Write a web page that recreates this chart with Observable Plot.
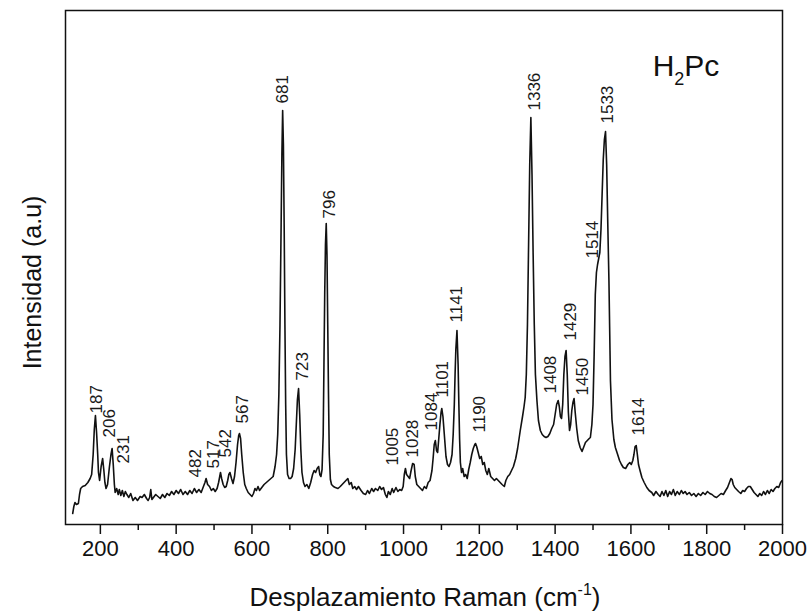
<!DOCTYPE html>
<html>
<head>
<meta charset="utf-8">
<script src="https://cdn.jsdelivr.net/npm/d3@7"></script>
<script src="https://cdn.jsdelivr.net/npm/@observablehq/plot@0.6"></script>
<style>
  body { margin: 0; background: #fff; }
  #chart svg { font-family: "Liberation Sans", Arial, sans-serif; }
</style>
</head>
<body>
<div id="chart"></div>
<script>
// Raman spectrum of H2Pc: Raman shift (cm^-1) and intensity (arbitrary units)
const ramanShift = [
  127,130,133,137,142,145,148,153,160,167,
  173,177,181,184,187,190,193,195,198,202,
  206,209,212,215,219,224,228,231,234,237,
  239,243,247,250,254,258,262,266,270,275,
  280,286,292,298,305,310,316,322,326,330,
  333,336,340,346,352,358,364,370,376,382,
  388,394,400,406,412,418,424,430,436,442,
  448,454,460,466,472,476,479,483,488,493,
  498,503,508,512,515,517,520,524,528,532,
  536,539,542,546,550,554,558,562,565,567,
  570,573,577,581,585,590,595,600,604,608,
  612,616,620,626,632,638,644,650,656,661,
  665,668,671,674,677,679,681,683,685,687,
  689,691,694,698,702,706,710,714,717,720,
  723,726,729,732,736,740,745,750,755,760,
  764,768,772,776,779,782,785,788,790,792,
  794,796,798,800,802,804,807,810,815,820,
  827,833,838,843,848,853,857,862,866,871,
  876,881,888,894,900,905,910,916,921,926,
  932,937,942,947,952,956,960,965,970,974,
  980,985,990,995,999,1002,1005,1008,1012,1016,
  1020,1024,1028,1031,1035,1040,1045,1050,1055,1060,
  1065,1070,1075,1078,1081,1084,1087,1090,1093,1096,
  1099,1101,1104,1108,1112,1116,1120,1124,1128,1131,
  1134,1136,1138,1141,1144,1146,1148,1150,1153,1156,
  1160,1164,1168,1172,1176,1180,1184,1188,1190,1193,
  1197,1201,1205,1209,1213,1217,1221,1225,1230,1235,
  1240,1245,1250,1255,1260,1266,1270,1275,1280,1285,
  1290,1296,1301,1308,1314,1318,1321,1324,1327,1330,
  1333,1336,1339,1342,1345,1348,1352,1356,1361,1366,
  1371,1376,1381,1386,1391,1396,1400,1404,1408,1411,
  1414,1417,1420,1423,1426,1429,1432,1435,1438,1441,
  1444,1447,1450,1453,1457,1461,1466,1471,1476,1480,
  1485,1490,1493,1497,1500,1503,1506,1509,1512,1514,
  1518,1521,1524,1527,1530,1533,1536,1539,1542,1546,
  1550,1555,1559,1565,1570,1575,1580,1586,1592,1597,
  1601,1605,1608,1611,1614,1617,1620,1624,1629,1635,
  1642,1648,1655,1660,1666,1672,1677,1682,1687,1692,
  1697,1702,1707,1712,1717,1722,1728,1733,1738,1743,
  1748,1754,1760,1766,1772,1778,1784,1790,1796,1802,
  1808,1814,1820,1826,1832,1838,1844,1850,1855,1860,
  1864,1867,1870,1874,1879,1884,1890,1895,1900,1905,
  1910,1915,1920,1925,1930,1935,1940,1945,1950,1955,
  1960,1965,1970,1975,1980,1985,1990,1995,1999
];
const intensity = [
  11,18,22,20,21,30,36,38,39,42,
  46,50,70,95,109,92,70,52,44,58,
  66,55,42,36,40,58,70,76,60,40,
  32,36,30,35,29,34,28,33,30,27,
  31,24,27,24,28,27,30,26,24,27,
  35,25,27,30,28,26,30,27,31,29,
  33,30,34,31,35,30,33,30,34,31,
  36,32,35,32,38,42,46,40,38,34,
  36,33,36,42,48,52,46,40,37,38,
  44,50,52,46,41,48,62,80,89,91,
  86,70,52,40,36,32,30,28,31,36,
  34,38,34,37,40,42,44,46,48,58,
  70,90,130,200,300,370,414,380,300,200,
  120,70,50,46,46,48,56,75,100,125,
  136,110,75,52,42,38,40,36,42,50,
  54,52,56,58,50,48,55,90,160,230,
  280,301,270,200,130,70,45,40,38,37,
  36,38,40,42,44,46,40,42,36,38,
  35,38,34,31,30,34,31,36,33,36,
  34,38,35,37,30,27,33,30,36,32,
  37,33,35,34,38,50,56,50,48,46,
  54,61,60,48,40,38,36,34,38,36,
  42,44,54,66,80,84,74,72,86,100,
  112,116,108,88,68,60,58,62,70,90,
  120,150,175,194,160,120,85,62,52,56,
  48,50,46,55,62,70,76,80,81,78,
  72,66,68,60,62,54,50,56,48,46,
  44,46,44,42,40,38,44,48,50,54,
  58,66,76,94,108,118,127,150,200,280,
  360,407,350,270,200,150,124,104,94,90,
  88,87,88,91,96,100,110,120,124,118,
  108,106,120,150,168,174,150,112,94,100,
  114,122,126,112,96,84,77,73,78,82,
  84,86,87,100,120,170,230,252,260,264,
  272,295,330,365,385,393,360,300,244,144,
  105,85,77,70,64,60,57,56,60,62,
  60,64,70,78,79,70,60,54,47,42,
  37,34,32,29,33,30,28,33,29,34,
  28,33,30,35,29,33,30,34,31,33,
  30,32,29,31,28,31,29,32,30,33,
  31,30,28,27,29,31,30,34,37,42,
  46,45,40,37,35,33,31,34,33,36,
  38,38,35,32,30,28,31,29,33,30,
  34,31,35,33,36,38,37,42,44
];

// Assigned bands (cm^-1), the intensity level where each label starts, and small sideways nudges (px)
const peakLabels = [187,206,231,482,517,542,567,681,723,796,1005,1028,1084,1101,1141,1190,1336,1408,1429,1450,1514,1533,1614];
const labelBase  = [111,87,61,47,56,67,101,421,144,306,59,67,94,127,202,92,414,131,184,129,266,401,89];
const labelShift = [1,7,11,-12,-7,-4,3,0,4,3,-13,-2,-4,1,0,4,4,-8,4,8,-6,2,2];

const majorTicks = d3.range(200, 2001, 200);
const minorTicks = d3.range(300, 2000, 200);

const spectrum = ramanShift.map((x, i) => ({x, y: intensity[i]}));

const ink = "#111";

// one text mark per band so each label can carry its own nudge
const bandLabels = peakLabels.map((p, i) =>
  Plot.text([{x: p, y: labelBase[i]}], {
    x: "x", y: "y", text: () => String(p), dx: labelShift[i],
    rotate: -90, textAnchor: "start", lineAnchor: "middle",
    fontSize: 17, fill: "#1a1a1a"
  })
);

const chart = Plot.plot({
  width: 812,
  height: 613,
  marginLeft: 65,
  marginRight: 30,
  marginTop: 10,
  marginBottom: 89,
  style: {fontFamily: "'Liberation Sans', Arial, sans-serif", color: ink, background: "#fff", overflow: "visible"},
  x: {domain: [108, 2000]},
  y: {domain: [0, 514], axis: null},
  marks: [
    Plot.line(spectrum, {x: "x", y: "y", stroke: ink, strokeWidth: 1.6}),
    ...bandLabels,
    Plot.text(["Intensidad (a.u)"], {frameAnchor: "left", textAnchor: "middle", rotate: -90, dx: -33, dy: 15, fontSize: 25, fill: ink}),
    Plot.axisX(majorTicks, {anchor: "bottom", tickSize: 10, tickPadding: 6, fontSize: 22, strokeWidth: 1.5, label: null, tickFormat: d => String(d)}),
    Plot.axisX(minorTicks, {anchor: "bottom", tickSize: 6, strokeWidth: 1.5, label: null, tickFormat: () => ""}),
    Plot.frame({stroke: ink, strokeWidth: 1.5})
  ]
});

document.getElementById("chart").append(chart);

const svg = d3.select(chart);

// x-axis title with the superscript unit
const xt = svg.append("text")
  .attr("x", 425)
  .attr("y", 606)
  .attr("text-anchor", "middle")
  .attr("font-size", 26)
  .attr("fill", ink);
xt.append("tspan").text("Desplazamiento Raman (cm");
xt.append("tspan").attr("dy", -11).attr("font-size", 16).text("-1");
xt.append("tspan").attr("dy", 11).text(")");

// Sample name with subscript
const nm = svg.append("text")
  .attr("x", 686)
  .attr("y", 76)
  .attr("font-size", 30)
  .attr("fill", ink);
nm.append("tspan").text("H");
nm.append("tspan").attr("dy", 9).attr("font-size", 18).text("2");
nm.append("tspan").attr("dy", -9).text("Pc");
</script>
</body>
</html>
